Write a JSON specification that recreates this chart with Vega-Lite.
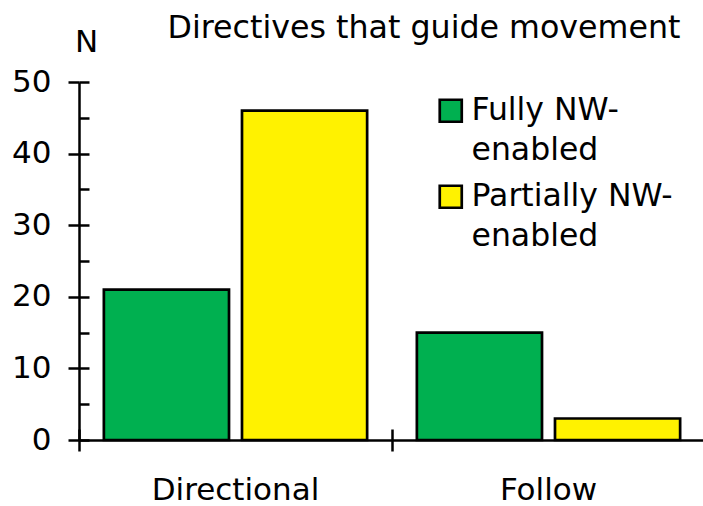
{
  "$schema": "https://vega.github.io/schema/vega-lite/v6.json",
  "width": 626,
  "height": 358,
  "autosize": {"type": "none"},
  "padding": {"left": 79, "top": 82, "right": 0, "bottom": 66},
  "background": "white",
  "data": {"values": [
    {"category": "Directional", "group": "Fully NW-enabled", "n": 21},
    {"category": "Directional", "group": "Partially NW-enabled", "n": 46},
    {"category": "Follow", "group": "Fully NW-enabled", "n": 15},
    {"category": "Follow", "group": "Partially NW-enabled", "n": 3}
  ]},
  "layer": [
    {
      "mark": {"type": "bar", "stroke": "black", "strokeWidth": 2.7},
      "encoding": {
        "x": {"field": "category", "type": "nominal", "sort": null,
              "scale": {"paddingInner": 0, "paddingOuter": 0},
              "axis": {"orient": "bottom", "title": null, "labelAngle": 0, "bandPosition": 0, "tickSize": 11, "tickWidth": 2.5, "tickColor": "black", "domainColor": "black", "domainWidth": 2.5, "labelFont": "DejaVu Sans", "labelFontSize": 31, "labelColor": "black", "labelPadding": 24, "labelBaseline": "top"}},
        "xOffset": {"field": "group", "scale": {"paddingInner": 0.094, "paddingOuter": 0.18}},
        "y": {"field": "n", "type": "quantitative",
              "scale": {"domain": [0, 50], "nice": false},
              "axis": {"orient": "left", "values": [0, 10, 20, 30, 40, 50], "grid": false, "tickSize": 11, "tickWidth": 2.5, "tickColor": "black", "domainColor": "black", "domainWidth": 2.5, "labelFont": "DejaVu Sans", "labelFontSize": 31, "labelColor": "black", "labelPadding": 17, "title": "N", "titleAngle": 0, "titleX": 7, "titleY": -31, "titleAlign": "center", "titleBaseline": "alphabetic", "titleFont": "DejaVu Sans", "titleFontSize": 31, "titleFontWeight": "normal", "titleColor": "black"}},
        "color": {"field": "group", "type": "nominal",
                  "scale": {"range": ["#00B050", "#FFF200"]},
                  "legend": {"orient": "none", "legendX": 356, "legendY": 13, "title": null, "padding": 0,
                             "symbolType": "square", "symbolSize": 484, "symbolStrokeColor": "black", "symbolStrokeWidth": 2.7, "symbolOpacity": 1,
                             "labelFont": "DejaVu Sans", "labelFontSize": 31.5, "labelColor": "black", "labelLimit": 400, "labelOffset": 5, "rowPadding": 13,
                             "labelExpr": "datum.label == 'Fully NW-enabled' ? ['Fully NW-', 'enabled'] : ['Partially NW-', 'enabled']",
                             "encode": {"labels": {"update": {"lineHeight": {"value": 40}}}}}}
      }
    },
    {
      "mark": {"type": "bar", "opacity": 0},
      "encoding": {
        "x": {"field": "category", "type": "nominal", "sort": null,
              "axis": {"orient": "bottom", "title": null, "labels": false, "domain": false, "bandPosition": 0, "tickSize": -11, "tickWidth": 2.5, "tickColor": "black"}},
        "y": {"field": "n", "type": "quantitative",
              "axis": {"orient": "left", "title": null, "labels": false, "domain": false, "grid": false, "values": [0, 5, 10, 15, 20, 25, 30, 35, 40, 45, 50], "tickSize": -10, "tickWidth": 2.5, "tickColor": "black"}}
      }
    },
    {
      "mark": {"type": "bar", "opacity": 0},
      "encoding": {
        "x": {"field": "category", "type": "nominal", "sort": null,
              "axis": {"orient": "top", "title": "Directives that guide movement", "labels": false, "domain": false, "ticks": false, "titleX": 88, "titleY": -45, "titleAlign": "left", "titleAnchor": null, "titleBaseline": "alphabetic", "titleFont": "DejaVu Sans", "titleFontSize": 31.7, "titleFontWeight": "normal", "titleColor": "black"}},
        "y": {"field": "n", "type": "quantitative", "axis": null}
      }
    }
  ],
  "resolve": {"axis": {"x": "independent", "y": "independent"}},
  "config": {"view": {"stroke": null}}
}
